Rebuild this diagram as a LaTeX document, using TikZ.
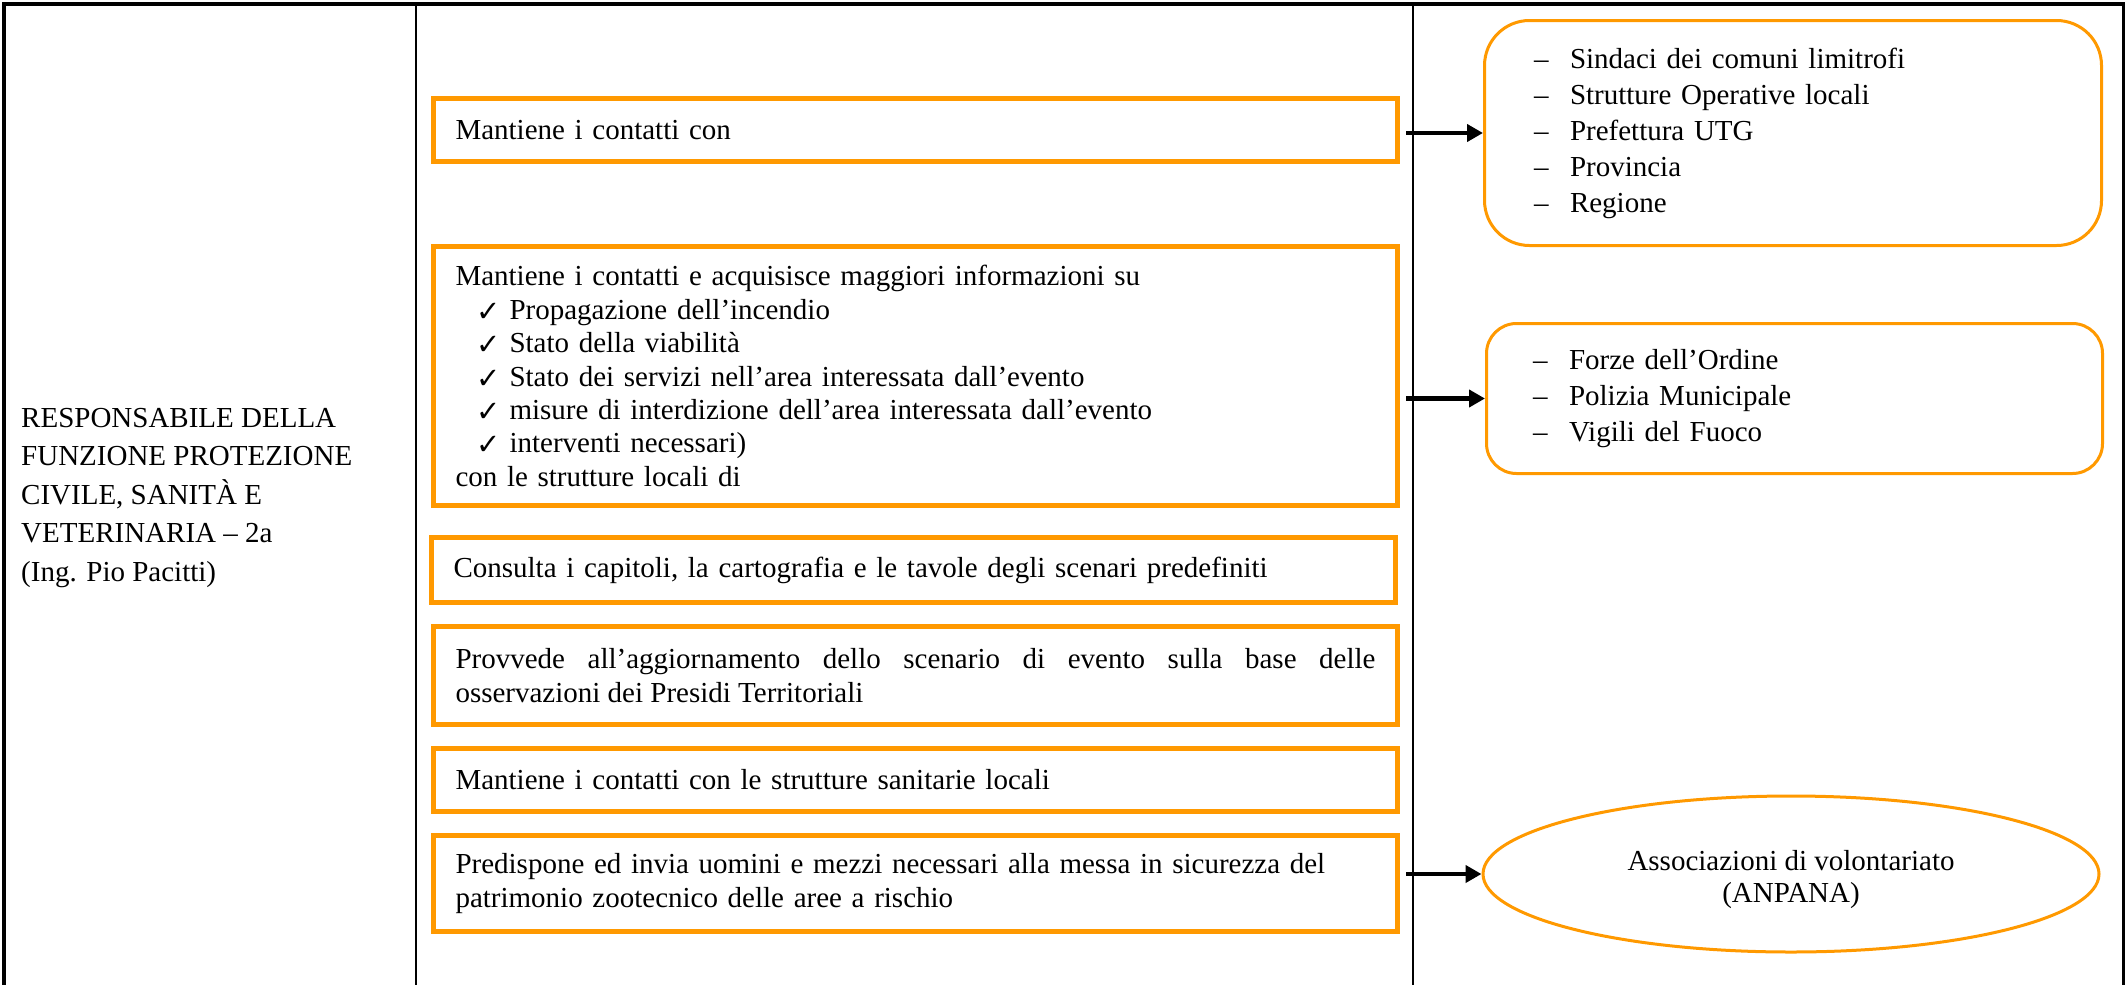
\documentclass[tikz,border=0pt]{standalone}
\usepackage{fontspec}
\setmainfont{Liberation Serif}
\newfontfamily\symfont{DejaVu Sans}
\usetikzlibrary{arrows.meta,shapes.geometric}
\definecolor{boxorange}{HTML}{FF9900}

% check-mark bullet and dash bullet used in the lists
\newcommand{\chkitem}{\hspace*{21pt}\makebox[33pt][l]{\raisebox{-2pt}{\symfont\fontsize{29}{29}\selectfont ✓}}}
\newcommand{\dashitem}{\makebox[36pt][l]{–}}

\begin{document}
\begin{tikzpicture}[x=1pt,y=-1pt,
  every node/.style={font=\fontsize{29}{33.4}\selectfont},
  frameline/.style={line width=3.5pt, black},
  colline/.style={line width=2pt, black},
  taskbox/.style={draw=boxorange, line width=5pt, rectangle,
    text width=920pt, inner xsep=22pt, inner ysep=0pt, align=left},
  listbox/.style={draw=boxorange, line width=3pt, rectangle, align=left,
    inner ysep=0pt, font=\fontsize{29}{36}\selectfont},
  arrowline/.style={line width=4.5pt, black, -{Triangle[length=16pt,width=17pt]}}
]
\useasboundingbox (0,0) rectangle (2127,985);

% table frame
\draw[frameline] (2,4) -- (2125,4);
\draw[frameline] (4,4) -- (4,985);
\draw[line width=3pt] (2123,4) -- (2123,985);
\draw[colline] (416,4) -- (416,985);
\draw[colline] (1413,4) -- (1413,985);

% left column
\node[anchor=north west, align=left, inner sep=0pt,
      font=\fontsize{29}{38.5}\selectfont] (resp) at (21,408)
  {RESPONSABILE DELLA\\FUNZIONE PROTEZIONE\\CIVILE, SANITÀ E\\VETERINARIA – 2a\\(Ing. Pio Pacitti)};

% activities
\node[taskbox, minimum height=63pt] (b1) at (915.5,130) {Mantiene i contatti con};
\node[taskbox, minimum height=259pt] (b2) at (915.5,376)
  {Mantiene i contatti e acquisisce maggiori informazioni su\\
   \chkitem Propagazione dell’incendio\\
   \chkitem Stato della viabilità\\
   \chkitem Stato dei servizi nell’area interessata dall’evento\\
   \chkitem misure di interdizione dell’area interessata dall’evento\\
   \chkitem interventi necessari)\\
   con le strutture locali di};
\node[taskbox, minimum height=65pt] (b3) at (913.5,570)
  {Consulta i capitoli, la cartografia e le tavole degli scenari predefiniti};
\node[taskbox, minimum height=98pt, align=justify] (b4) at (915.5,675.5)
  {Provvede all’aggiornamento dello scenario di evento sulla base delle\linebreak
   osservazioni dei Presidi Territoriali};
\node[taskbox, minimum height=63pt] (b5) at (915.5,780)
  {Mantiene i contatti con le strutture sanitarie locali};
\node[taskbox, minimum height=96pt] (b6) at (915.5,883.5)
  {Predispone ed invia uomini e mezzi necessari alla messa in sicurezza del\\
   patrimonio zootecnico delle aree a rischio};

% counterparts
\node[listbox, rounded corners=45pt, minimum width=617pt, minimum height=225pt,
      inner xsep=49.5pt, text width=518pt] (r1) at (1793,133)
  {\dashitem Sindaci dei comuni limitrofi\\
   \dashitem Strutture Operative locali\\
   \dashitem Prefettura UTG\\
   \dashitem Provincia\\
   \dashitem Regione};
\node[listbox, rounded corners=30pt, minimum width=616pt, minimum height=150pt,
      inner xsep=46.5pt, text width=523pt] (r2) at (1794.5,398.5)
  {\dashitem Forze dell’Ordine\\
   \dashitem Polizia Municipale\\
   \dashitem Vigili del Fuoco};
\node[ellipse, draw=boxorange, line width=3pt, minimum width=616pt, minimum height=156pt,
      align=center, font=\fontsize{29}{32}\selectfont] (r3) at (1791,874)
  {\rule{0pt}{32pt}Associazioni di volontariato\\(ANPANA)};

% connectors
\draw[arrowline] ([xshift=6pt]b1.east |- r1.west) -- (r1.west);
\draw[arrowline] ([xshift=6pt]b2.east |- r2.west) -- (r2.west);
\draw[arrowline] ([xshift=6pt]b6.east |- r3.west) -- (r3.west);
\end{tikzpicture}
\end{document}
